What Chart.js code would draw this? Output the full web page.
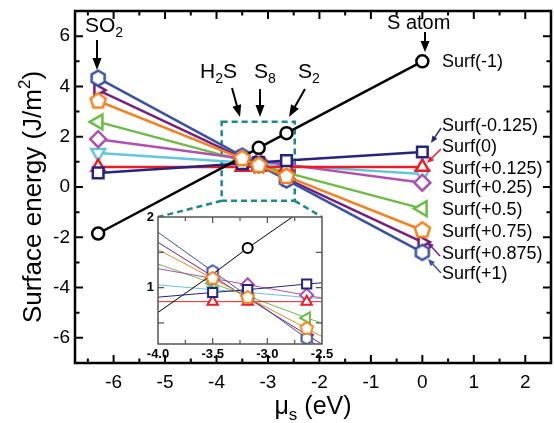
<!DOCTYPE html>
<html>
<head>
<meta charset="utf-8">
<script src="https://cdn.jsdelivr.net/npm/chart.js@4.4.0/dist/chart.umd.min.js"></script>
<style>
  html, body { margin: 0; padding: 0; background: #fff; }
  #wrap { position: relative; width: 554px; height: 423px; overflow: hidden; }
  #main { position: absolute; left: 0; top: 0; }
  #inset { position: absolute; left: 125px; top: 205px; }
</style>
</head>
<body>
<div id="wrap">
  <canvas id="main" width="562" height="423"></canvas>
  <canvas id="inset" width="215" height="160"></canvas>
</div>
<script>
// chemical potential of S at the reference points: SO2, H2S, S8, S2, S atom
const muValues = [-6.3, -3.5, -3.18, -2.64, 0];

const surfLabels = [
  "Surf(-1)", "Surf(-0.125)", "Surf(0)", "Surf(+0.125)", "Surf(+0.25)",
  "Surf(+0.5)", "Surf(+0.75)", "Surf(+0.875)", "Surf(+1)"
];

// surface energies (J/m2) read at each mu value
const surfM1 = [-1.85, 1.19, 1.56, 2.14, 5.0];
const surfM0125 = [0.56, 0.93, 0.97, 1.05, 1.39];
const surf0 = [0.8, 0.8, 0.8, 0.8, 0.8];
const surfP0125 = [1.35, 0.97, 0.93, 0.86, 0.52];
const surfP025 = [1.9, 1.13, 1.04, 0.89, 0.17];
const surfP05 = [2.59, 1.06, 0.88, 0.57, -0.86];
const surfP075 = [3.42, 1.13, 0.86, 0.42, -1.72];
const surfP0875 = [3.85, 1.16, 0.85, 0.33, -2.19];
const surfP1 = [4.33, 1.23, 0.88, 0.28, -2.6];

const seriesValues = [surfM1, surfM0125, surf0, surfP0125, surfP025, surfP05, surfP075, surfP0875, surfP1];

// tick positions
const mainXMajor = [-6, -5, -4, -3, -2, -1, 0, 1, 2];
const mainXMinor = [-6.5, -5.5, -4.5, -3.5, -2.5, -1.5, -0.5, 0.5, 1.5];
const mainYMajor = [-6, -4, -2, 0, 2, 4, 6];
const mainYMinor = [-5, -3, -1, 1, 3, 5];
const insetXLabels = [-4, -3.5, -3, -2.5];
const insetYLabels = [1, 2];
const insetXMajor = [-3.5, -3.0];
const insetXMinor = [-3.75, -3.25, -2.75];
const insetYMajor = [0.5, 1, 1.5];

const FONT = '"Liberation Sans", Arial, Helvetica, sans-serif';

const seriesStyles = [
  { color: "#000000", shape: "circle", rot: 0, r: 6, ri: 5, order: 1 },
  { color: "#25257f", shape: "rect", rot: 0, r: 7.5, ri: 6.5, order: 2 },
  { color: "#ee1c25", shape: "triangle", rot: 0, r: 7.5, ri: 6, order: 4 },
  { color: "#62c6e0", shape: "triangle", rot: 180, r: 8, ri: 6, order: 8 },
  { color: "#b050b0", shape: "rectRot", rot: 0, r: 8, ri: 6.5, order: 5 },
  { color: "#6cbd45", shape: "triangle", rot: -90, r: 8.5, ri: 6.5, order: 7 },
  { color: "#f58220", shape: "pentagon", rot: 0, r: 8, ri: 6.5, order: 0 },
  { color: "#7a1f7f", shape: "triangle", rot: 90, r: 7.5, ri: 6, order: 6 },
  { color: "#3852a4", shape: "hexagon", rot: 0, r: 7.5, ri: 6, order: 3 }
];

function polyMarker(sides, r, color, lw) {
  const size = Math.ceil(2 * r + lw + 2);
  const c = document.createElement("canvas");
  c.width = size;
  c.height = size;
  const g = c.getContext("2d");
  g.translate(size / 2, size / 2);
  g.beginPath();
  for (let i = 0; i < sides; i++) {
    const a = -Math.PI / 2 + (i * 2 * Math.PI) / sides;
    const px = r * Math.cos(a), py = r * Math.sin(a);
    if (i === 0) g.moveTo(px, py); else g.lineTo(px, py);
  }
  g.closePath();
  g.fillStyle = "#fff";
  g.fill();
  g.lineWidth = lw;
  g.strokeStyle = color;
  g.stroke();
  return c;
}

function buildDatasets(inset) {
  return seriesValues.map((vals, i) => {
    const st = seriesStyles[i];
    const r = inset ? st.ri : st.r;
    const bw = inset ? 2 : 2.5;
    let pointStyle = st.shape;
    if (st.shape === "pentagon") pointStyle = polyMarker(5, r, st.color, bw);
    if (st.shape === "hexagon") pointStyle = polyMarker(6, r, st.color, bw);
    // no marker for Surf(-1) at H2S
    const radius = i === 0 ? [r, 0, r, r, r] : r;
    return {
      label: surfLabels[i],
      data: muValues.map((x, j) => ({ x: x, y: vals[j] })),
      borderColor: st.color,
      borderWidth: inset ? 1 : 2.5,
      pointStyle: pointStyle,
      pointRotation: st.rot,
      pointRadius: radius,
      pointBackgroundColor: "#fff",
      pointBorderColor: st.color,
      pointBorderWidth: bw,
      order: st.order
    };
  });
}

// keep the plot area exactly where the layout padding puts it
function noScalePadding(s) {
  s.paddingTop = 0;
  s.paddingBottom = 0;
  s.paddingLeft = 0;
  s.paddingRight = 0;
}

function frameTicks(cfg) {
  return {
    id: "frameTicks",
    beforeDraw(chart) {
      if (!cfg.fill) return;
      const a = chart.chartArea;
      chart.ctx.save();
      chart.ctx.fillStyle = "#fff";
      chart.ctx.fillRect(a.left, a.top, a.right - a.left, a.bottom - a.top);
      chart.ctx.restore();
    },
    afterDatasetsDraw(chart) {
      const { ctx, chartArea: a, scales } = chart;
      const x = scales.x, y = scales.y;
      ctx.save();
      ctx.strokeStyle = cfg.color;
      ctx.lineWidth = cfg.tickWidth;
      ctx.beginPath();
      const xt = (vals, len) => vals.forEach(v => {
        const p = x.getPixelForValue(v);
        ctx.moveTo(p, a.bottom); ctx.lineTo(p, a.bottom - len);
        ctx.moveTo(p, a.top); ctx.lineTo(p, a.top + len);
      });
      const yt = (vals, len) => vals.forEach(v => {
        const p = y.getPixelForValue(v);
        ctx.moveTo(a.left, p); ctx.lineTo(a.left + len, p);
        ctx.moveTo(a.right, p); ctx.lineTo(a.right - len, p);
      });
      xt(cfg.xMajor, cfg.major);
      xt(cfg.xMinor, cfg.minor);
      yt(cfg.yMajor, cfg.major);
      yt(cfg.yMinor, cfg.minor);
      ctx.stroke();
      ctx.lineWidth = cfg.frameWidth;
      ctx.strokeRect(a.left, a.top, a.right - a.left, a.bottom - a.top);
      ctx.restore();
    }
  };
}

function richText(ctx, parts, x, y, align) {
  let total = 0;
  parts.forEach(p => {
    ctx.font = p.size + "px " + FONT;
    p.w = ctx.measureText(p.t).width;
    total += p.w;
  });
  let cx = align === "center" ? x - total / 2 : x;
  ctx.textAlign = "left";
  parts.forEach(p => {
    ctx.font = p.size + "px " + FONT;
    ctx.fillText(p.t, cx, y + (p.dy || 0));
    cx += p.w;
  });
}

function arrow(ctx, x1, y1, x2, y2, color, lw, head, half) {
  const a = Math.atan2(y2 - y1, x2 - x1);
  const c = Math.cos(a), s = Math.sin(a);
  ctx.save();
  ctx.strokeStyle = color;
  ctx.fillStyle = color;
  ctx.lineWidth = lw;
  ctx.beginPath();
  ctx.moveTo(x1, y1);
  ctx.lineTo(x2 - c * head * 0.8, y2 - s * head * 0.8);
  ctx.stroke();
  ctx.beginPath();
  ctx.moveTo(x2, y2);
  ctx.lineTo(x2 - head * c + half * s, y2 - head * s - half * c);
  ctx.lineTo(x2 - head * c - half * s, y2 - head * s + half * c);
  ctx.closePath();
  ctx.fill();
  ctx.restore();
}

// inset chart (zoom of the crossing region)
const insetChart = new Chart(document.getElementById("inset").getContext("2d"), {
  type: "line",
  data: { datasets: buildDatasets(true) },
  options: {
    responsive: false,
    animation: false,
    events: [],
    layout: { padding: { top: 12, right: 18, left: 0, bottom: 0 } },
    plugins: { legend: { display: false }, tooltip: { enabled: false } },
    scales: {
      x: {
        type: "linear", min: -4, max: -2.5,
        grid: { display: false, drawTicks: false }, border: { display: false },
        ticks: {
          autoSkip: false, maxRotation: 0, padding: 3, color: "#000",
          font: { family: FONT, size: 13, weight: "bold" },
          callback: v => v.toFixed(1)
        },
        afterBuildTicks: s => { s.ticks = insetXLabels.map(v => ({ value: v })); },
        afterFit: s => { s.height = 21; noScalePadding(s); }
      },
      y: {
        type: "linear", min: 0.2, max: 2,
        grid: { display: false, drawTicks: false }, border: { display: false },
        ticks: {
          autoSkip: false, padding: 4, color: "#000",
          font: { family: FONT, size: 13, weight: "bold" },
          callback: v => String(v)
        },
        afterBuildTicks: s => { s.ticks = insetYLabels.map(v => ({ value: v })); },
        afterFit: s => { s.width = 33; noScalePadding(s); }
      }
    }
  },
  plugins: [frameTicks({
    fill: true, color: "#555", tickWidth: 1.2, frameWidth: 1.5, major: 6, minor: 4,
    xMajor: insetXMajor, xMinor: insetXMinor, yMajor: insetYMajor, yMinor: []
  })]
});

const annotations = {
  id: "annotations",
  beforeDatasetsDraw(chart) {
    const { ctx, scales: { x, y } } = chart;
    const ia = insetChart.chartArea;
    const off = { left: 125, top: 205 };
    const l = x.getPixelForValue(-3.9), r = x.getPixelForValue(-2.48);
    const t = y.getPixelForValue(2.6), b = y.getPixelForValue(-0.55);
    ctx.save();
    ctx.strokeStyle = "#1a8a8a";
    ctx.lineWidth = 2.5;
    ctx.setLineDash([6, 4]);
    ctx.strokeRect(l, t, r - l, b - t);
    ctx.beginPath();
    ctx.moveTo(l, b); ctx.lineTo(off.left + ia.left, off.top + ia.top);
    ctx.moveTo(r, b); ctx.lineTo(off.left + ia.right, off.top + ia.top);
    ctx.stroke();
    ctx.restore();
  },
  afterDraw(chart) {
    const { ctx, chartArea: a } = chart;
    ctx.save();
    ctx.fillStyle = "#000";
    ctx.textBaseline = "alphabetic";
    // species labels
    richText(ctx, [{ t: "SO", size: 21 }, { t: "2", size: 14, dy: 5 }], 85, 32, "left");
    richText(ctx, [{ t: "H", size: 21 }, { t: "2", size: 14, dy: 5 }, { t: "S", size: 21 }], 200, 78, "left");
    richText(ctx, [{ t: "S", size: 21 }, { t: "8", size: 14, dy: 5 }], 254, 78, "left");
    richText(ctx, [{ t: "S", size: 21 }, { t: "2", size: 14, dy: 5 }], 298, 78, "left");
    richText(ctx, [{ t: "S atom", size: 20 }], 387, 29, "left");
    arrow(ctx, 97, 40, 97, 70, "#000", 2, 12, 4.5);
    arrow(ctx, 232, 88, 240, 117, "#000", 2, 12, 4.5);
    arrow(ctx, 260, 89, 260, 117, "#000", 2, 12, 4.5);
    arrow(ctx, 305, 89, 289, 117, "#000", 2, 12, 4.5);
    arrow(ctx, 425, 32, 425, 52, "#000", 2, 11, 4.5);
    // series labels on the right
    ctx.fillStyle = "#000";
    ctx.textBaseline = "middle";
    const rightLabels = [
      ["Surf(-1)", 62], ["Surf(-0.125)", 126], ["Surf(0)", 147], ["Surf(+0.125)", 169],
      ["Surf(+0.25)", 188], ["Surf(+0.5)", 210], ["Surf(+0.75)", 232], ["Surf(+0.875)", 254], ["Surf(+1)", 274]
    ];
    ctx.font = "18px " + FONT;
    ctx.textAlign = "left";
    rightLabels.forEach(([txt, py]) => ctx.fillText(txt, 442, py));
    arrow(ctx, 441, 128, 431, 143, seriesStyles[1].color, 1.5, 7, 3);
    arrow(ctx, 441, 149, 427, 163, seriesStyles[2].color, 1.5, 7, 3);
    arrow(ctx, 440, 256, 427, 242, seriesStyles[7].color, 1.5, 7, 3);
    arrow(ctx, 441, 273, 428, 259, seriesStyles[8].color, 1.5, 7, 3);
    // axis titles
    ctx.fillStyle = "#000";
    ctx.textBaseline = "alphabetic";
    richText(ctx, [{ t: "\u03bc", size: 25 }, { t: "s", size: 17, dy: 6 }, { t: " (eV)", size: 25 }],
      (a.left + a.right) / 2, 414, "center");
    ctx.translate(41, 197);
    ctx.rotate(-Math.PI / 2);
    richText(ctx, [{ t: "Surface energy (J/m", size: 26 }, { t: "2", size: 17, dy: -11 }, { t: ")", size: 26 }],
      0, 0, "center");
    ctx.restore();
  }
};

// the canvas is a little wider than the visible area: Chart.js reserves
// room for the marker overflow on the right, which pushes the frame inwards
new Chart(document.getElementById("main").getContext("2d"), {
  type: "line",
  data: { datasets: buildDatasets(false) },
  options: {
    responsive: false,
    animation: false,
    events: [],
    layout: { padding: { top: 10, right: 3, left: 0, bottom: 0 } },
    plugins: { legend: { display: false }, tooltip: { enabled: false } },
    scales: {
      x: {
        type: "linear", min: -6.75, max: 2.5,
        grid: { display: false, drawTicks: false }, border: { display: false },
        ticks: {
          autoSkip: false, maxRotation: 0, padding: 8, color: "#000",
          font: { family: FONT, size: 19 },
          callback: v => String(v)
        },
        afterBuildTicks: s => { s.ticks = mainXMajor.map(v => ({ value: v })); },
        afterFit: s => { s.height = 60; noScalePadding(s); }
      },
      y: {
        type: "linear", min: -7, max: 7,
        grid: { display: false, drawTicks: false }, border: { display: false },
        ticks: {
          autoSkip: false, padding: 5, color: "#000",
          font: { family: FONT, size: 19 },
          callback: v => String(v)
        },
        afterBuildTicks: s => { s.ticks = mainYMajor.map(v => ({ value: v })); },
        afterFit: s => { s.width = 75; noScalePadding(s); }
      }
    }
  },
  plugins: [frameTicks({
    fill: false, color: "#000", tickWidth: 2, frameWidth: 2.5, major: 8, minor: 4.5,
    xMajor: mainXMajor, xMinor: mainXMinor, yMajor: mainYMajor, yMinor: mainYMinor
  }), annotations]
});
</script>
</body>
</html>
